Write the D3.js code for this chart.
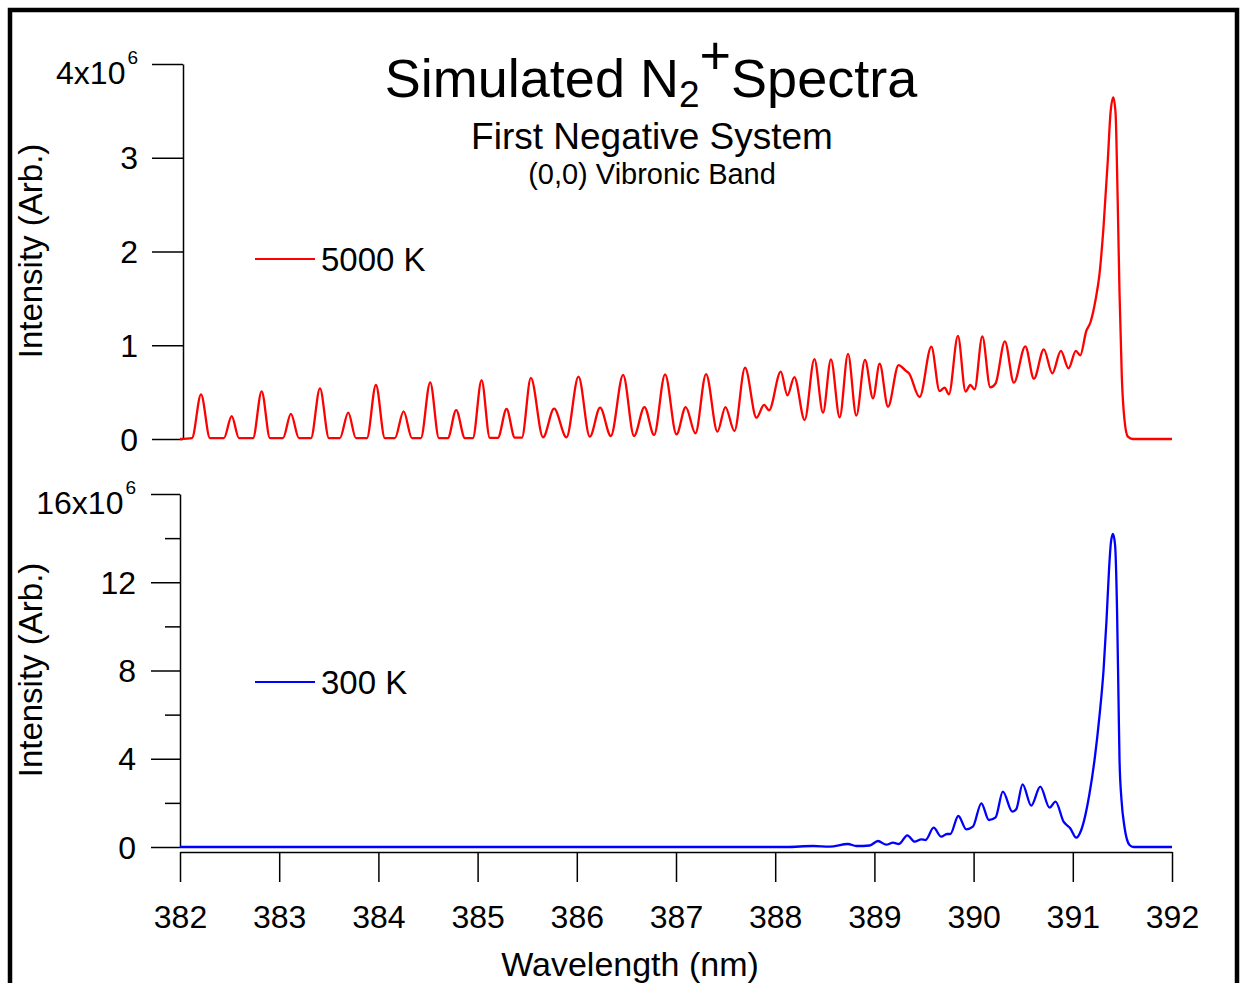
<!DOCTYPE html>
<html>
<head>
<meta charset="utf-8">
<title>Simulated N2+ Spectra</title>
<script src="https://cdnjs.cloudflare.com/ajax/libs/d3/7.8.5/d3.min.js"></script>
<style>
  body { margin: 0; background: #ffffff; }
  svg text { font-family: "Liberation Sans", Arial, Helvetica, sans-serif; fill: #000; }
</style>
</head>
<body>
<div class="chartHolder"></div>
<script>
// tick values
const xTicks = [382, 383, 384, 385, 386, 387, 388, 389, 390, 391, 392];
const topTicks = [0, 1, 2, 3, 4];
const bottomTicks = [0, 4, 8, 12, 16];
const bottomMinorTicks = [2, 6, 10, 14];

// 5000 K spectrum, wavelength (nm) and intensity (x10^6)
const wl5000 = [
  382.000, 382.121, 382.212, 382.302, 382.443, 382.521, 382.594, 382.736, 382.823, 382.907,
  383.038, 383.118, 383.199, 383.320, 383.411, 383.501, 383.612, 383.696, 383.773, 383.884,
  383.975, 384.065, 384.166, 384.254, 384.338, 384.428, 384.522, 384.610, 384.700, 384.784,
  384.872, 384.952, 385.040, 385.123, 385.204, 385.292, 385.375, 385.446, 385.537, 385.660,
  385.771, 385.896, 386.017, 386.131, 386.235, 386.343, 386.467, 386.577, 386.682, 386.779,
  386.890, 387.005, 387.098, 387.196, 387.303, 387.418, 387.498, 387.589, 387.696, 387.811,
  387.888, 387.938, 388.056, 388.123, 388.193, 388.297, 388.395, 388.482, 388.562, 388.650,
  388.734, 388.818, 388.905, 388.986, 389.053, 389.137, 389.244, 389.315, 389.348, 389.456,
  389.574, 389.657, 389.708, 389.751, 389.842, 389.919, 389.967, 390.010, 390.088, 390.168,
  390.222, 390.315, 390.406, 390.521, 390.608, 390.708, 390.793, 390.880, 390.957, 391.031,
  391.075, 391.136, 391.179, 391.229, 391.270, 391.310, 391.353, 391.380, 391.408, 391.431,
  391.451, 391.471, 391.494, 391.521, 391.555, 391.605, 392.000
];
const int5000 = [
  0.000, 0.010, 0.477, 0.010, 0.010, 0.245, 0.010, 0.010, 0.509, 0.010,
  0.010, 0.267, 0.010, 0.010, 0.541, 0.010, 0.010, 0.281, 0.010, 0.010,
  0.576, 0.010, 0.010, 0.295, 0.010, 0.010, 0.605, 0.010, 0.010, 0.309,
  0.010, 0.010, 0.629, 0.012, 0.012, 0.320, 0.015, 0.015, 0.651, 0.018,
  0.323, 0.018, 0.665, 0.025, 0.334, 0.032, 0.683, 0.032, 0.341, 0.043,
  0.690, 0.050, 0.341, 0.061, 0.693, 0.078, 0.341, 0.085, 0.761, 0.227,
  0.363, 0.306, 0.718, 0.466, 0.661, 0.203, 0.853, 0.281, 0.850, 0.231,
  0.907, 0.249, 0.843, 0.434, 0.803, 0.345, 0.789, 0.729, 0.701, 0.448,
  0.985, 0.512, 0.547, 0.477, 1.099, 0.505, 0.576, 0.530, 1.095, 0.551,
  0.594, 1.042, 0.601, 0.989, 0.643, 0.957, 0.701, 0.939, 0.754, 0.939,
  0.893, 1.152, 1.248, 1.483, 1.767, 2.265, 2.976, 3.477, 3.645, 3.477,
  2.624, 1.557, 0.665, 0.203, 0.025, 0.000, 0.000
];

// 300 K spectrum, wavelength (nm) and intensity (x10^6)
const wl300 = [
  382.000, 387.844, 388.113, 388.381, 388.549, 388.733, 388.818, 388.952, 389.036, 389.120,
  389.187, 389.247, 389.332, 389.406, 389.473, 389.516, 389.597, 389.674, 389.731, 389.765,
  389.846, 389.926, 389.993, 390.078, 390.154, 390.222, 390.295, 390.390, 390.430, 390.494,
  390.581, 390.672, 390.766, 390.826, 390.907, 390.974, 391.035, 391.085, 391.169, 391.219,
  391.270, 391.310, 391.340, 391.365, 391.385, 391.405, 391.426, 391.446, 391.461, 391.471,
  391.491, 391.521, 391.572, 391.612, 392.000
];
const int300 = [
  0.000, 0.000, 0.000, 0.045, 0.014, 0.136, 0.045, 0.068, 0.272, 0.104,
  0.195, 0.136, 0.530, 0.240, 0.349, 0.317, 0.875, 0.467, 0.589, 0.589,
  1.405, 0.802, 0.920, 1.981, 1.224, 1.346, 2.507, 1.600, 1.709, 2.842,
  1.872, 2.733, 1.781, 2.053, 1.147, 0.848, 0.422, 0.771, 2.434, 3.944,
  5.984, 8.024, 10.290, 12.557, 13.826, 14.189, 13.690, 10.743, 6.664, 3.944,
  2.131, 0.907, 0.091, 0.000, 0.000
];

// legend entries
const series = [
  { name: "5000 K", color: "#ff0000" },
  { name: "300 K", color: "#0000ff" }
];

// init variables.
const width = 1244;
const height = 983;
const fontFamily = '"Liberation Sans", Arial, Helvetica, sans-serif';

let svg = d3
  .select(".chartHolder")
  .append("svg")
  .attr("width", width)
  .attr("height", height);

/* scales: both panels share the wavelength scale */
let xScale = d3.scaleLinear().domain([382, 392]).range([180, 1172]);
let yTop = d3.scaleLinear().domain([0, 4]).range([439, 64]);
let yBottom = d3.scaleLinear().domain([0, 16]).range([847, 494]);

/* outer frame */
svg
  .append("rect")
  .attr("x", 10)
  .attr("y", 10)
  .attr("width", 1227)
  .attr("height", 1000)
  .attr("fill", "none")
  .attr("stroke", "#000")
  .attr("stroke-width", 4.5);

function styleAxis(g) {
  g.attr("font-size", 32).attr("font-family", fontFamily);
  g.selectAll("path, line").attr("stroke", "#000").attr("stroke-width", 1.5);
  g.selectAll("text").attr("fill", "#000");
}

/* top y axis */
let topAxis = svg
  .append("g")
  .attr("transform", "translate(183, 0)")
  .call(
    d3.axisLeft(yTop)
      .tickValues(topTicks)
      .tickSize(31)
      .tickSizeOuter(0)
      .tickPadding(14)
      .tickFormat((d) => (d === 4 ? "4x10" : d))
  )
  .call(styleAxis);
topAxis.selectAll(".tick text").attr("dy", "0.35em");
topAxis
  .selectAll(".tick text")
  .filter((d) => d === 4)
  .attr("dy", 19.5)
  .append("tspan")
  .attr("font-size", 19)
  .attr("dx", 2)
  .attr("dy", -20)
  .text("6");

/* bottom y axis, major and minor ticks */
let bottomAxis = svg
  .append("g")
  .attr("transform", "translate(180, 0)")
  .call(
    d3.axisLeft(yBottom)
      .tickValues(bottomTicks)
      .tickSize(29)
      .tickSizeOuter(0)
      .tickPadding(15)
      .tickFormat((d) => (d === 16 ? "16x10" : d))
  )
  .call(styleAxis);
bottomAxis.selectAll(".tick text").attr("dy", "0.35em");
bottomAxis
  .selectAll(".tick text")
  .filter((d) => d === 16)
  .attr("dy", 19.5)
  .append("tspan")
  .attr("font-size", 19)
  .attr("dx", 2)
  .attr("dy", -20)
  .text("6");

svg
  .append("g")
  .attr("transform", "translate(180, 0)")
  .call(d3.axisLeft(yBottom).tickValues(bottomMinorTicks).tickSize(15).tickSizeOuter(0).tickFormat(""))
  .call(styleAxis)
  .select(".domain")
  .remove();

/* x axis under the bottom panel */
svg
  .append("g")
  .attr("transform", "translate(0, 852)")
  .call(
    d3.axisBottom(xScale)
      .tickValues(xTicks)
      .tickSize(30)
      .tickSizeOuter(0)
      .tickPadding(23)
      .tickFormat(d3.format("d"))
  )
  .call(styleAxis);

/* spectra */
let topLine = d3
  .line()
  .x((d, i) => xScale(wl5000[i]))
  .y((d) => yTop(d))
  .curve(d3.curveMonotoneX);

let bottomLine = d3
  .line()
  .x((d, i) => xScale(wl300[i]))
  .y((d) => yBottom(d))
  .curve(d3.curveMonotoneX);

svg
  .append("path")
  .attr("d", topLine(int5000))
  .attr("fill", "none")
  .attr("stroke", series[0].color)
  .attr("stroke-width", 2.3);

svg
  .append("path")
  .attr("d", bottomLine(int300))
  .attr("fill", "none")
  .attr("stroke", series[1].color)
  .attr("stroke-width", 2.3);

/* legends */
[[series[0], 259], [series[1], 682]].forEach(([s, y]) => {
  svg
    .append("line")
    .attr("x1", 255)
    .attr("x2", 315)
    .attr("y1", y)
    .attr("y2", y)
    .attr("stroke", s.color)
    .attr("stroke-width", 2);
  svg
    .append("text")
    .attr("x", 321)
    .attr("y", y + 12)
    .attr("font-size", 33)
    .text(s.name);
});

/* axis titles */
[251, 670].forEach((cy) => {
  svg
    .append("text")
    .attr("transform", "translate(42, " + cy + ") rotate(-90)")
    .attr("text-anchor", "middle")
    .attr("font-size", 33)
    .text("Intensity (Arb.)");
});

svg
  .append("text")
  .attr("x", 630)
  .attr("y", 976)
  .attr("text-anchor", "middle")
  .attr("font-size", 34)
  .text("Wavelength (nm)");

/* titles */
let title = svg
  .append("text")
  .attr("x", 651)
  .attr("y", 97)
  .attr("text-anchor", "middle")
  .attr("font-size", 54);
title.append("tspan").text("Simulated N");
title.append("tspan").attr("font-size", 37).attr("dy", 10).text("2");
title.append("tspan").attr("dy", -33).text("+");
title.append("tspan").attr("dy", 23).text("Spectra");

svg
  .append("text")
  .attr("x", 652)
  .attr("y", 149)
  .attr("text-anchor", "middle")
  .attr("font-size", 37)
  .text("First Negative System");

svg
  .append("text")
  .attr("x", 652)
  .attr("y", 184)
  .attr("text-anchor", "middle")
  .attr("font-size", 29)
  .text("(0,0) Vibronic Band");
</script>
</body>
</html>
